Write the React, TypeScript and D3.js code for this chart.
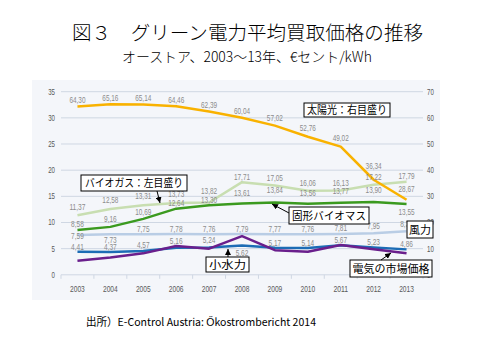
import React from 'react';
import * as d3 from 'd3';

const years = ['2003', '2004', '2005', '2006', '2007', '2008', '2009', '2010', '2011', '2012', '2013'];
const solar = [64.3, 65.16, 65.14, 64.46, 62.39, 60.04, 57.02, 52.76, 49.02, 36.34, 28.67];
const biogas = [11.37, 12.58, 13.31, 13.73, 13.82, 17.71, 17.05, 16.06, 16.13, 17.22, 17.79];
const biomass = [8.58, 9.16, 10.69, 12.64, 13.3, 13.61, 13.84, 13.56, 13.77, 13.9, 13.55];
const wind = [7.59, 7.73, 7.75, 7.78, 7.76, 7.79, 7.77, 7.76, 7.81, 7.95, 8.34];
const hydro = [4.41, 4.37, 4.57, 5.16, 5.24, 5.62, 5.17, 5.14, 5.67, 5.23, 4.86];
const market = [2.7, 3.3, 4.1, 5.5, 5.0, 7.4, 4.7, 4.4, 5.7, 4.9, 4.1];
const leftTicks = [0, 5, 10, 15, 20, 25, 30, 35];
const rightTicks = [0, 10, 20, 30, 40, 50, 60, 70];

// label vertical offsets (px, label centre relative to point)
const solarDy = [-7, -6, -6, -6, -7, -7, -8, -9, -9, -14, -11];
const biogasDy = [-8, -9, -9, -8.5, -11.5, -5.5, -8, -7.5, -7, -7.5, -6];
const biomassDy = [-6, -7.5, -7, -5.5, -5, -11, -12, -11, -11.5, -12, 8];
const windDy = [1, 5.5, -5, -5.5, -5.5, -5.5, -5.5, -5.5, -5.5, -7, -7];
const hydroDy = [-5, -5, -5.5, -7, -7, 8, -5, -5, -5, -5, -5];

const title = '図３　グリーン電力平均買取価格の推移';
const subtitle = 'オーストア、2003～13年、€セント/kWh';
const source = '出所）E-Control Austria: Őkostrombericht 2014';

const numFont = '"Liberation Sans", Arial, sans-serif';
const jpFont = '"Noto Sans CJK JP", sans-serif';

function numWidth(s: string): number {
  let w = 0;
  for (const c of s) w += c === ',' ? 2.5 : 3.4;
  return w;
}
const fmt = (v: number) => v.toFixed(2).replace('.', ',');

export default function App() {
  const W = 480, H = 360;
  const x = d3.scaleBand<string>().domain(years).range([61, 423]).padding(0);
  const cx = (i: number) => (x(years[i]) as number) + x.bandwidth() / 2;
  const yL = d3.scaleLinear().domain([0, 35]).range([274.8, 91.7]);
  const yR = d3.scaleLinear().domain([0, 70]).range([274.8, 91.7]);

  const lineL = d3.line<number>().x((_, i) => cx(i)).y(d => yL(d));
  const lineR = d3.line<number>().x((_, i) => cx(i)).y(d => yR(d));

  const series = [
    { data: wind, color: '#b9cde5', gen: lineL, y: yL, dy: windDy },
    { data: biogas, color: '#c8deb1', gen: lineL, y: yL, dy: biogasDy },
    { data: biomass, color: '#3b9a1f', gen: lineL, y: yL, dy: biomassDy },
    { data: hydro, color: '#1c6cb5', gen: lineL, y: yL, dy: hydroDy },
    { data: market, color: '#6a1f8c', gen: lineL, y: yL, dy: null as number[] | null },
    { data: solar, color: '#f9b200', gen: lineR, y: yR, dy: solarDy },
  ];

  const boxes = [
    { x0: 304, y0: 103, x1: 390, y1: 117, text: '太陽光：右目盛り', tl: 80 },
    { x0: 81, y0: 175, x1: 187, y1: 191, text: 'バイオガス：左目盛り', tl: 98 },
    { x0: 289, y0: 207, x1: 369, y1: 224, text: '固形バイオマス', tl: 74 },
    { x0: 407, y0: 221, x1: 433, y1: 238, text: '風力', tl: 22 },
    { x0: 206, y0: 257, x1: 249, y1: 272, text: '小水力', tl: 37 },
    { x0: 350, y0: 260, x1: 432, y1: 277, text: '電気の市場価格', tl: 77 },
  ];

  const arrows = [
    { x1: 157, y1: 191, x2: 160, y2: 203 },
    { x1: 289, y1: 213, x2: 272, y2: 204 },
    { x1: 228, y1: 257, x2: 228, y2: 249 },
    { x1: 381, y1: 260, x2: 391, y2: 253 },
  ];

  const gridColor = '#cfd7e3';

  return (
    <div style={{ position: 'fixed', left: 0, top: 0 }}>
      <svg width={W} height={H} viewBox={`0 0 ${W} ${H}`} style={{ display: 'block', background: '#fff' }}>
        <defs>
          <marker id="arr" viewBox="0 0 10 10" refX="10" refY="5" markerWidth="6" markerHeight="6" markerUnits="userSpaceOnUse" orient="auto">
            <path d="M0,0 L10,5 L0,10 z" fill="#000" />
          </marker>
        </defs>
        {/* Titles */}
        <text x={72} y={40} fontFamily={jpFont} fontSize={19} fontWeight={300} textLength={351} lengthAdjust="spacingAndGlyphs" fill="#000">{title}</text>
        <text x={122} y={62} fontFamily={jpFont} fontSize={14} fontWeight={300} textLength={250} lengthAdjust="spacingAndGlyphs" fill="#000">{subtitle}</text>

        {/* plot background */}
        <rect x={32} y={80} width={408} height={220} fill="#f4f6fa" />

        {/* gridlines */}
        {leftTicks.map(t => (
          <line key={'g' + t} x1={61} x2={423} y1={yL(t)} y2={yL(t)} stroke={gridColor} strokeWidth={1} />
        ))}
        {/* x ticks */}
        {years.concat(['end']).map((yr, i) => {
          const xx = 61 + i * x.bandwidth();
          return <line key={'xt' + i} x1={xx} x2={xx} y1={yL(0)} y2={yL(0) + 4} stroke={gridColor} strokeWidth={1} />;
        })}
        {/* left labels */}
        {leftTicks.map(t => (
          <text key={'l' + t} x={55} y={yL(t) + 3} textAnchor="end" fontFamily={numFont} fontSize={8.5} fill="#595959"
            textLength={numWidth(String(t))} lengthAdjust="spacingAndGlyphs">{t}</text>
        ))}
        {/* right labels */}
        {rightTicks.map(t => (
          <text key={'r' + t} x={427} y={yR(t) + 3} fontFamily={numFont} fontSize={8.5} fill="#595959"
            textLength={numWidth(String(t))} lengthAdjust="spacingAndGlyphs">{t}</text>
        ))}
        {/* x labels */}
        {years.map((yr, i) => (
          <text key={'x' + yr} x={cx(i)} y={292} textAnchor="middle" fontFamily={numFont} fontSize={8.5} fill="#595959"
            textLength={14.7} lengthAdjust="spacingAndGlyphs">{yr}</text>
        ))}

        {/* lines */}
        {series.map((s, k) => (
          <path key={'s' + k} d={s.gen(s.data) as string} fill="none" stroke={s.color} strokeWidth={2.5} strokeLinejoin="round" />
        ))}

        {/* data labels */}
        {series.map((s, k) => s.dy ? s.data.map((v, i) => {
          const str = fmt(v);
          return (
            <text key={'d' + k + '_' + i} x={cx(i)} y={s.y(v) + (s.dy as number[])[i] + 3} textAnchor="middle"
              fontFamily={numFont} fontSize={8.5} fill="#8c8c8c"
              textLength={numWidth(str)} lengthAdjust="spacingAndGlyphs">{str}</text>
          );
        }) : null)}

        {/* annotation boxes */}
        {boxes.map((b, i) => (
          <g key={'b' + i}>
            <rect x={b.x0} y={b.y0} width={b.x1 - b.x0} height={b.y1 - b.y0} fill="#fff" stroke="#000" strokeWidth={1} />
            <text x={(b.x0 + b.x1) / 2} y={(b.y0 + b.y1) / 2 + 4} textAnchor="middle" fontFamily={jpFont} fontSize={11}
              fill="#000" textLength={b.tl} lengthAdjust="spacingAndGlyphs">{b.text}</text>
          </g>
        ))}
        {arrows.map((a, i) => (
          <line key={'a' + i} x1={a.x1} y1={a.y1} x2={a.x2} y2={a.y2} stroke="#000" strokeWidth={1} markerEnd="url(#arr)" />
        ))}

        {/* source */}
        <text x={86} y={326} fontFamily={jpFont} fontSize={11} textLength={230} lengthAdjust="spacingAndGlyphs" fill="#000">{source}</text>
      </svg>
    </div>
  );
}
